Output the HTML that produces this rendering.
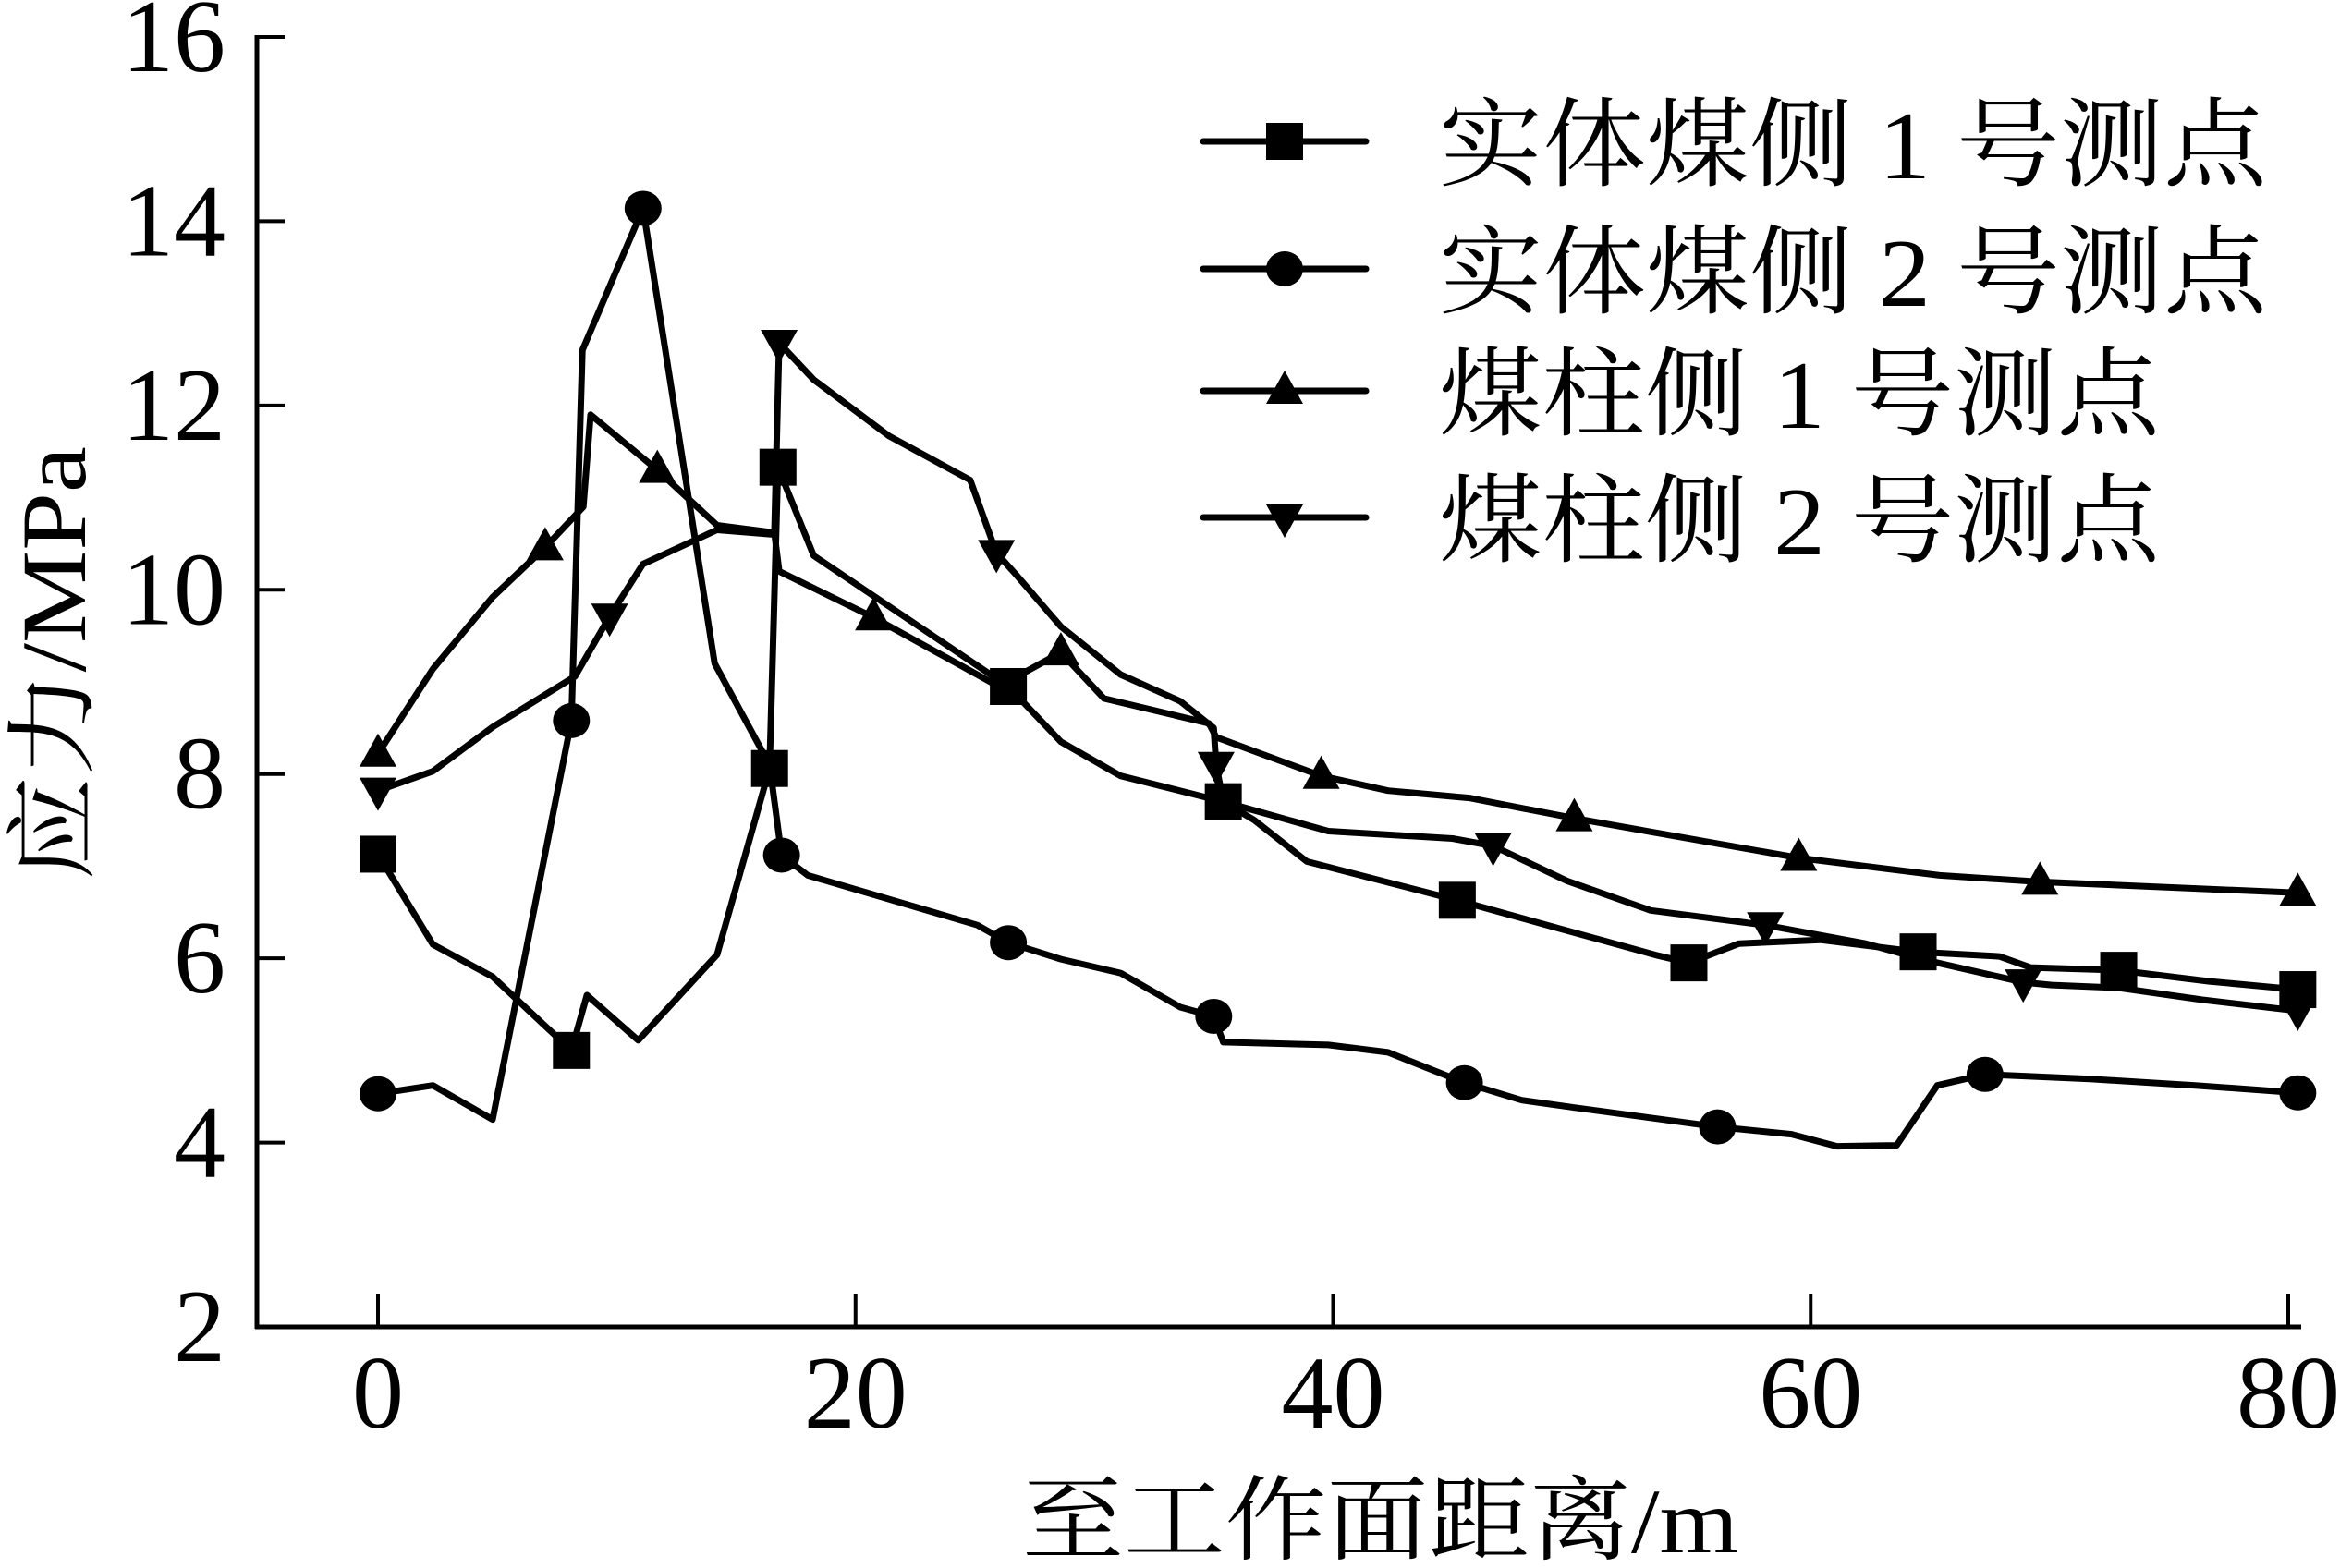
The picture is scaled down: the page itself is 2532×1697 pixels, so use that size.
<!DOCTYPE html>
<html><head><meta charset="utf-8"><style>
html,body{margin:0;padding:0;background:#fff;}
svg{display:block;}
svg text{font-family:"Liberation Serif","Noto Serif CJK SC",serif;}
</style></head><body>
<svg id="chart" width="2532" height="1697" viewBox="0 0 2532 1697" xmlns="http://www.w3.org/2000/svg">
<g id="axes"></g>
<g id="series"></g>
<g id="legend"></g>
<text x="1106" y="1680" font-size="100" textLength="775" lengthAdjust="spacingAndGlyphs">至工作面距离/m</text>
<text transform="translate(92,953) rotate(-90)" font-size="100" textLength="470" lengthAdjust="spacingAndGlyphs">应力/MPa</text>
</svg>
<script>
const xTicks=[0,20,40,60,80];
const yTicks=[2,4,6,8,10,12,14,16];
const seriesNames=["实体煤侧 1 号测点","实体煤侧 2 号测点","煤柱侧 1 号测点","煤柱侧 2 号测点"];
const s1x=[0,2.3,4.8,8.1,8.75,10.9,14.2,16.4,16.75,18.25,26.4,28.6,31.1,35.4,36.7,38.9,45.2,49.8,53.6,54.9,57,60.4,64.5,67.9,69.2,72.9,76.7,80.4];
const s1y=[7.13,6.15,5.8,5.0,5.6,5.11,6.04,8.06,11.33,10.37,8.95,8.35,7.98,7.7,7.5,7.05,6.63,6.3,6.03,5.95,6.16,6.2,6.07,6.02,5.9,5.87,5.75,5.66];
const s1m=[0,3,7,8,10,13,16,19,22,25,27];
const s2x=[0,2.3,4.8,8.1,8.56,11.1,14.1,16.4,16.9,18,25.1,26.4,28.6,31.1,33.6,35,35.4,39.8,42.3,45.5,47.9,50.1,56.1,59.2,61.1,63.6,65.3,67.3,71.7,76.1,80.4];
const s2y=[4.53,4.62,4.25,8.58,12.6,14.14,9.2,8.1,7.12,6.9,6.36,6.17,5.99,5.84,5.47,5.37,5.09,5.06,4.98,4.65,4.46,4.38,4.17,4.09,3.96,3.97,4.62,4.74,4.69,4.62,4.54];
const s2m=[0,3,5,8,11,15,19,22,27,30];
const s3x=[0,2.3,4.8,7,8.6,8.9,11.7,14.2,16.6,16.8,20.75,26,28.6,30.4,34.8,35.1,39.5,42.3,45.7,50.1,59.5,65.4,69.6,80.4];
const s3y=[8.22,9.14,9.92,10.46,10.9,11.9,11.3,10.7,10.62,10.2,9.7,8.95,9.32,8.82,8.55,8.4,7.98,7.82,7.74,7.52,7.09,6.9,6.83,6.71];
const s3m=[0,3,6,10,12,16,19,20,22,23];
const s4x=[0,2.3,4.8,8.25,9.7,11.1,14.2,16.6,16.8,18.25,21.4,24.8,25.9,26.7,28.6,31.1,33.6,35,35.1,35.4,39.8,45,46.7,49.8,53.3,58.1,62.3,64.8,68.9,70.1,72.9,76.4,80.4];
const s4y=[7.82,8.03,8.51,9.06,9.71,10.28,10.65,10.6,12.68,12.28,11.67,11.19,10.4,10.17,9.6,9.08,8.79,8.5,8.1,7.7,7.38,7.3,7.22,6.84,6.52,6.36,6.16,5.98,5.74,5.71,5.68,5.55,5.43];
const s4m=[0,4,8,12,18,22,25,28,32];

const NS="http://www.w3.org/2000/svg";
const X0=409,X1=2476,Y2=1436,Y16=40;
function sx(v){return X0+(v-0)*(X1-X0)/80;}
function sy(v){return Y2-(v-2)*(Y2-Y16)/14;}
function mk(tag,attrs,parent){const e=document.createElementNS(NS,tag);for(const k in attrs)e.setAttribute(k,attrs[k]);parent.appendChild(e);return e;}
const axes=document.getElementById('axes');
let ya=mk('line',{x1:278,y1:Y16-2,x2:278,y2:Y2+2,stroke:'#000','stroke-width':5},axes);


let xa=mk('line',{x1:276,y1:Y2,x2:2490,y2:Y2,stroke:'#000','stroke-width':5},axes);


yTicks.forEach(t=>{
  const y=sy(t);
  const tk=mk('line',{x1:278,y1:y,x2:308,y2:y,stroke:'#000','stroke-width':4},axes);
  
  
  const tx=mk('text',{x:244,y:y+37,'text-anchor':'end','font-size':112},axes);
  tx.textContent=t;
  
  
});
xTicks.forEach(t=>{
  const x=sx(t);
  const tk=mk('line',{x1:x,y1:Y2,x2:x,y2:Y2-36,stroke:'#000','stroke-width':4},axes);
  
  
  const tx=mk('text',{x:x,y:1545,'text-anchor':'middle','font-size':112},axes);
  tx.textContent=t;
  
  
});
function marker(type,x,y,parent){
  let e;
  if(type==='square') e=mk('rect',{x:x-20,y:y-20,width:40,height:40,fill:'#000'},parent);
  else if(type==='circle') e=mk('ellipse',{cx:x,cy:y,rx:20,ry:19,fill:'#000'},parent);
  else if(type==='up') e=mk('polygon',{points:`${x},${y-22} ${x-20},${y+14} ${x+20},${y+14}`,fill:'#000'},parent);
  else e=mk('polygon',{points:`${x},${y+22} ${x-20},${y-14} ${x+20},${y-14}`,fill:'#000'},parent);
  return e;
}
const sg=document.getElementById('series');
const all=[[s1x,s1y,s1m,'square'],[s2x,s2y,s2m,'circle'],[s3x,s3y,s3m,'up'],[s4x,s4y,s4m,'down']];
all.forEach((s,i)=>{
  const [xs,ys,ms,type]=s;
  const g=mk('g',{},sg);
  
  
  const pts=xs.map((v,j)=>sx(v).toFixed(1)+','+sy(ys[j]).toFixed(1)).join(' ');
  const pl=mk('polyline',{points:pts,fill:'none',stroke:'#000','stroke-width':7,'stroke-linejoin':'round'},g);
  
  
  ms.forEach(j=>{
    const m=marker(type,sx(xs[j]),sy(ys[j]),g);
    
    
  });
});
const lg=document.getElementById('legend');
const rowsY=[153,291,423,560];
const textW=[896,896,780,780];
const types=['square','circle','up','down'];
seriesNames.forEach((n,i)=>{
  const g=mk('g',{},lg);
  
  
  const y=rowsY[i];
  mk('line',{x1:1302,y1:y,x2:1478,y2:y,stroke:'#000','stroke-width':7,'stroke-linecap':'round'},g);
  marker(types[i],1390,y,g);
  const t=mk('text',{x:1557,y:y+40,'font-size':105,textLength:textW[i],lengthAdjust:'spacingAndGlyphs'},g);
  t.textContent=n;
  
  
});
</script>
</body></html>
